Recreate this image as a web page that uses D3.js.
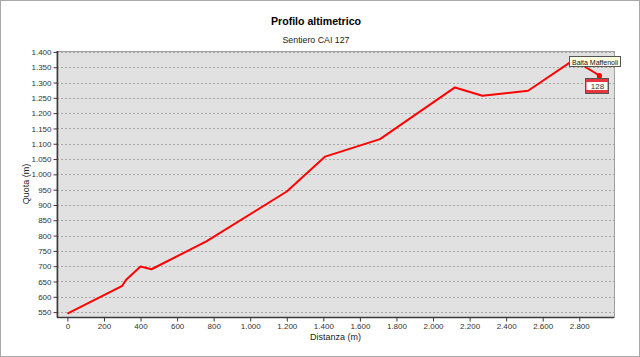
<!DOCTYPE html>
<html>
<head>
<meta charset="utf-8">
<script src="https://cdn.jsdelivr.net/npm/d3@7"></script>
<style>
  body { margin:0; background:white; }
  svg text { font-family: "Liberation Sans", Arial, sans-serif; }
</style>
</head>
<body>
<svg class="chart"></svg>
<script>
// distanza (m) e quota (m) lungo il sentiero
var distanze = [0, 300, 320, 400, 460, 760, 1200, 1410, 1710, 2120, 2270, 2520, 2770, 2910];
var quote = [545, 636, 655, 699, 690, 781, 944, 1058, 1115, 1284, 1257, 1273, 1374, 1323];

var yTicks = [550,600,650,700,750,800,850,900,950,1000,1050,1100,1150,1200,1250,1300,1350,1400];
var xTicks = [0,200,400,600,800,1000,1200,1400,1600,1800,2000,2200,2400,2600,2800];

var titolo = 'Profilo altimetrico';
var sottotitolo = 'Sentiero CAI 127';
var nomePunto = 'Baita Maffenoli';
var numeroSentiero = '128';

var svgwidth = 640;
var svgheight = 357;
var font = '"Liberation Sans", Arial, sans-serif';

var plot = {left:57, right:614, top:51, bottom:317};

var it = d3.formatLocale({decimal:',', thousands:'.', grouping:[3], currency:['€','']});
var fmt = it.format(',d');

var svg = d3.select('.chart').attr('width',svgwidth).attr('height',svgheight);

// cornice esterna
svg.append('rect')
   .attr('x',0.5).attr('y',0.5)
   .attr('width',svgwidth-1).attr('height',svgheight-1)
   .attr('fill','white')
   .attr('stroke','#a9a9a9');

var xscale = d3.scaleLinear().domain([-57,2990]).range([plot.left,plot.right]);
var yscale = d3.scaleLinear().domain([534,1403]).range([plot.bottom,plot.top]);

// area del grafico
svg.append('rect')
   .attr('x',plot.left).attr('y',plot.top+0.5)
   .attr('width',plot.right-plot.left+0.5).attr('height',plot.bottom-plot.top)
   .attr('fill','#e1e1e1')
   .attr('stroke','#a0a0a0');

// griglia orizzontale
svg.append('g').selectAll('line').data(yTicks).enter().append('line')
   .attr('x1',plot.left).attr('x2',plot.right)
   .attr('y1',function(d){ return Math.round(yscale(d))+0.5; })
   .attr('y2',function(d){ return Math.round(yscale(d))+0.5; })
   .attr('stroke','#a8a8a8')
   .attr('stroke-dasharray','2,2');

// assi
var yaxis = svg.append('g')
   .attr('transform','translate('+(plot.left+0.5)+',0)')
   .call(d3.axisLeft(yscale).tickValues(yTicks).tickFormat(fmt).tickSize(4).tickPadding(2));

var xaxis = svg.append('g')
   .attr('transform','translate(0,'+(plot.bottom+0.5)+')')
   .call(d3.axisBottom(xscale).tickValues(xTicks).tickFormat(fmt).tickSize(4).tickPadding(2));

[yaxis,xaxis].forEach(function(ax){
  ax.attr('font-family',font);
  ax.select('.domain').attr('stroke','#3a3a3a').attr('stroke-width',1.5);
  ax.selectAll('.tick line').attr('stroke','#3a3a3a');
  ax.selectAll('.tick text')
    .attr('fill','#333')
    .style('font-size','8px');
});
yaxis.select('.domain').attr('d','M0,'+plot.top+'V'+plot.bottom);
xaxis.select('.domain').attr('d','M'+plot.left+',0H'+plot.right);

// profilo
var punti = distanze.map(function(d,i){ return {x:d, y:quote[i]}; });

var linegen = d3.line()
  .x(function(d){ return xscale(d.x); })
  .y(function(d){ return yscale(d.y); });

svg.append('path')
   .attr('d',linegen(punti))
   .attr('fill','none')
   .attr('stroke','#ff0000')
   .attr('stroke-width',2)
   .attr('stroke-linejoin','round');

// titoli
svg.append('text')
   .attr('x',316).attr('y',25)
   .attr('text-anchor','middle')
   .style('font-size','10.6px')
   .style('font-weight','bold')
   .text(titolo);

svg.append('text')
   .attr('x',316).attr('y',43)
   .attr('text-anchor','middle')
   .style('font-size','8.8px')
   .attr('fill','#222')
   .text(sottotitolo);

svg.append('text')
   .attr('x',(plot.left+plot.right)/2).attr('y',340)
   .attr('text-anchor','middle')
   .style('font-size','9px')
   .attr('fill','#222')
   .text('Distanza (m)');

svg.append('text')
   .attr('transform','translate(29,'+((plot.top+plot.bottom)/2)+') rotate(-90)')
   .attr('text-anchor','middle')
   .style('font-size','9px')
   .attr('fill','#222')
   .text('Quota (m)');

// punto finale e segnavia
var ultimo = punti[punti.length-1];
var px = xscale(ultimo.x), py = yscale(ultimo.y);

svg.append('path')
   .attr('d','M'+(px-3)+','+(py+3)+'L'+(px+3)+','+(py+3)+'L'+px+','+(py-1)+'Z')
   .attr('fill','#2f6b2f');
svg.append('circle')
   .attr('cx',px).attr('cy',py).attr('r',2.6)
   .attr('fill','#ff0000');

var segno = svg.append('g').attr('transform','translate('+(Math.round(px)-13.5)+','+(Math.round(py)+3.5)+')');
segno.append('rect').attr('x',0).attr('y',0).attr('width',23).attr('height',15)
     .attr('fill','#e8343a').attr('stroke','#555');
segno.append('rect').attr('x',1).attr('y',3.5).attr('width',21).attr('height',8)
     .attr('fill','white');
segno.append('text').attr('x',12).attr('y',10.5)
     .attr('text-anchor','middle')
     .style('font-size','8px')
     .attr('fill','#333')
     .text(numeroSentiero);

// etichetta del punto più alto
var etichetta = svg.append('g').attr('transform','translate(569.5,56.5)');
etichetta.append('rect')
   .attr('x',0).attr('y',0).attr('width',51).attr('height',10)
   .attr('fill','#ffffe1')
   .attr('stroke','#555');
etichetta.append('text')
   .attr('x',25.5).attr('y',8)
   .attr('text-anchor','middle')
   .attr('textLength',46)
   .attr('lengthAdjust','spacingAndGlyphs')
   .style('font-size','7.8px')
   .attr('fill','#111')
   .text(nomePunto);
</script>
</body>
</html>
